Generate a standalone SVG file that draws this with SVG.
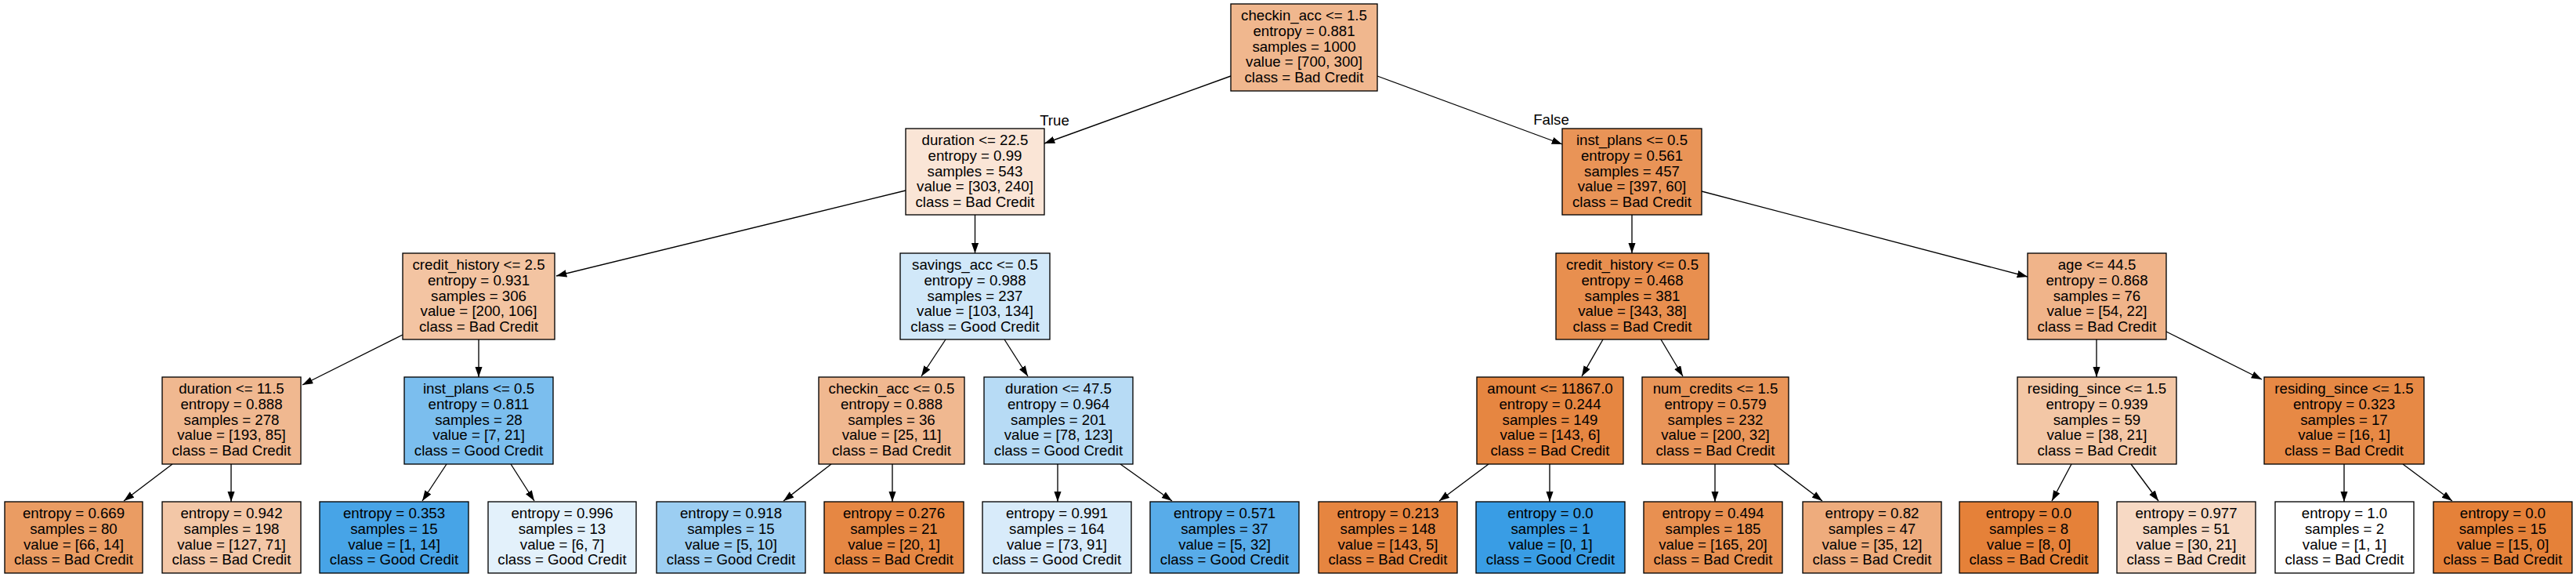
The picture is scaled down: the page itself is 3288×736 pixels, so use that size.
<svg xmlns="http://www.w3.org/2000/svg" width="3288" height="736" viewBox="0 0 3288 736">
<style>
g rect{stroke:#000;stroke-width:1.33}
text{font-family:"Liberation Sans",Arial,Helvetica,sans-serif;font-size:18.67px;text-anchor:middle;fill:#000}
#edges line{stroke:#000;stroke-width:1.33;marker-end:url(#ah)}
</style>
<defs>
<marker id="ah" markerUnits="userSpaceOnUse" markerWidth="14" markerHeight="10" refX="13.3" refY="4.67" orient="auto"><path d="M0,0 L13.3,4.67 L0,9.33 z" fill="#000"/></marker>
</defs>
<rect x="0" y="0" width="3288" height="736" fill="#fff"/>
<g id="edges">
<line x1="1571" y1="97" x2="1333" y2="183"/>
<line x1="1758" y1="97" x2="1994" y2="184"/>
<line x1="1156" y1="243" x2="710" y2="352"/>
<line x1="1244.5" y1="274" x2="1244.5" y2="323"/>
<line x1="2083" y1="274" x2="2083" y2="323"/>
<line x1="2172" y1="244" x2="2588" y2="353"/>
<line x1="514" y1="427" x2="386" y2="491"/>
<line x1="611" y1="433" x2="611" y2="481"/>
<line x1="1207" y1="433" x2="1176" y2="480"/>
<line x1="1282" y1="433" x2="1312" y2="480"/>
<line x1="2046" y1="433" x2="2019" y2="480"/>
<line x1="2120" y1="433" x2="2148" y2="480"/>
<line x1="2676" y1="433" x2="2676" y2="481"/>
<line x1="2765" y1="423" x2="2887" y2="484"/>
<line x1="220" y1="592" x2="158" y2="639"/>
<line x1="295" y1="592" x2="295" y2="640"/>
<line x1="570" y1="592" x2="539" y2="639"/>
<line x1="652" y1="592" x2="682" y2="639"/>
<line x1="1061" y1="592" x2="1000" y2="639"/>
<line x1="1139" y1="592" x2="1139" y2="640"/>
<line x1="1350" y1="592" x2="1350" y2="640"/>
<line x1="1430" y1="592" x2="1496" y2="639"/>
<line x1="1900" y1="592" x2="1837" y2="639"/>
<line x1="1978" y1="592" x2="1978" y2="640"/>
<line x1="2189" y1="592" x2="2189" y2="640"/>
<line x1="2264" y1="592" x2="2326" y2="639"/>
<line x1="2644" y1="592" x2="2619" y2="639"/>
<line x1="2720" y1="592" x2="2755" y2="639"/>
<line x1="2992" y1="592" x2="2992" y2="640"/>
<line x1="3067" y1="592" x2="3130" y2="639"/>
<text x="1346" y="160">True</text>
<text x="1980" y="159">False</text>
</g>
<g id="n0"><rect x="1571" y="5" width="187" height="111" fill="#f0b78e"/><text><tspan x="1664.5" y="26">checkin_acc &lt;= 1.5</tspan><tspan x="1664.5" y="45.75">entropy = 0.881</tspan><tspan x="1664.5" y="65.5">samples = 1000</tspan><tspan x="1664.5" y="85.25">value = [700, 300]</tspan><tspan x="1664.5" y="105">class = Bad Credit</tspan></text></g>
<g id="n1"><rect x="1156" y="164" width="177" height="110" fill="#fae5d6"/><text><tspan x="1244.5" y="185">duration &lt;= 22.5</tspan><tspan x="1244.5" y="204.75">entropy = 0.99</tspan><tspan x="1244.5" y="224.5">samples = 543</tspan><tspan x="1244.5" y="244.25">value = [303, 240]</tspan><tspan x="1244.5" y="264">class = Bad Credit</tspan></text></g>
<g id="n2"><rect x="514" y="323" width="194" height="110" fill="#f3c4a2"/><text><tspan x="611" y="344">credit_history &lt;= 2.5</tspan><tspan x="611" y="363.75">entropy = 0.931</tspan><tspan x="611" y="383.5">samples = 306</tspan><tspan x="611" y="403.25">value = [200, 106]</tspan><tspan x="611" y="423">class = Bad Credit</tspan></text></g>
<g id="n3"><rect x="207" y="481" width="177" height="111" fill="#f0b890"/><text><tspan x="295.5" y="502">duration &lt;= 11.5</tspan><tspan x="295.5" y="521.75">entropy = 0.888</tspan><tspan x="295.5" y="541.5">samples = 278</tspan><tspan x="295.5" y="561.25">value = [193, 85]</tspan><tspan x="295.5" y="581">class = Bad Credit</tspan></text></g>
<g id="n4"><rect x="6" y="640" width="176" height="91" fill="#ea9c63"/><text><tspan x="94" y="661">entropy = 0.669</tspan><tspan x="94" y="680.75">samples = 80</tspan><tspan x="94" y="700.5">value = [66, 14]</tspan><tspan x="94" y="720.25">class = Bad Credit</tspan></text></g>
<g id="n5"><rect x="207" y="640" width="177" height="91" fill="#f3c7a7"/><text><tspan x="295.5" y="661">entropy = 0.942</tspan><tspan x="295.5" y="680.75">samples = 198</tspan><tspan x="295.5" y="700.5">value = [127, 71]</tspan><tspan x="295.5" y="720.25">class = Bad Credit</tspan></text></g>
<g id="n6"><rect x="516" y="481" width="190" height="111" fill="#7bbeee"/><text><tspan x="611" y="502">inst_plans &lt;= 0.5</tspan><tspan x="611" y="521.75">entropy = 0.811</tspan><tspan x="611" y="541.5">samples = 28</tspan><tspan x="611" y="561.25">value = [7, 21]</tspan><tspan x="611" y="581">class = Good Credit</tspan></text></g>
<g id="n7"><rect x="408" y="640" width="190" height="91" fill="#47a4e7"/><text><tspan x="503" y="661">entropy = 0.353</tspan><tspan x="503" y="680.75">samples = 15</tspan><tspan x="503" y="700.5">value = [1, 14]</tspan><tspan x="503" y="720.25">class = Good Credit</tspan></text></g>
<g id="n8"><rect x="623" y="640" width="189" height="91" fill="#e3f1fb"/><text><tspan x="717.5" y="661">entropy = 0.996</tspan><tspan x="717.5" y="680.75">samples = 13</tspan><tspan x="717.5" y="700.5">value = [6, 7]</tspan><tspan x="717.5" y="720.25">class = Good Credit</tspan></text></g>
<g id="n9"><rect x="1149" y="323" width="191" height="110" fill="#d1e8f9"/><text><tspan x="1244.5" y="344">savings_acc &lt;= 0.5</tspan><tspan x="1244.5" y="363.75">entropy = 0.988</tspan><tspan x="1244.5" y="383.5">samples = 237</tspan><tspan x="1244.5" y="403.25">value = [103, 134]</tspan><tspan x="1244.5" y="423">class = Good Credit</tspan></text></g>
<g id="n10"><rect x="1045" y="481" width="186" height="111" fill="#f0b890"/><text><tspan x="1138" y="502">checkin_acc &lt;= 0.5</tspan><tspan x="1138" y="521.75">entropy = 0.888</tspan><tspan x="1138" y="541.5">samples = 36</tspan><tspan x="1138" y="561.25">value = [25, 11]</tspan><tspan x="1138" y="581">class = Bad Credit</tspan></text></g>
<g id="n11"><rect x="838" y="640" width="190" height="91" fill="#9ccef2"/><text><tspan x="933" y="661">entropy = 0.918</tspan><tspan x="933" y="680.75">samples = 15</tspan><tspan x="933" y="700.5">value = [5, 10]</tspan><tspan x="933" y="720.25">class = Good Credit</tspan></text></g>
<g id="n12"><rect x="1052" y="640" width="178" height="91" fill="#e68743"/><text><tspan x="1141" y="661">entropy = 0.276</tspan><tspan x="1141" y="680.75">samples = 21</tspan><tspan x="1141" y="700.5">value = [20, 1]</tspan><tspan x="1141" y="720.25">class = Bad Credit</tspan></text></g>
<g id="n13"><rect x="1256" y="481" width="190" height="111" fill="#b7dbf5"/><text><tspan x="1351" y="502">duration &lt;= 47.5</tspan><tspan x="1351" y="521.75">entropy = 0.964</tspan><tspan x="1351" y="541.5">samples = 201</tspan><tspan x="1351" y="561.25">value = [78, 123]</tspan><tspan x="1351" y="581">class = Good Credit</tspan></text></g>
<g id="n14"><rect x="1254" y="640" width="190" height="91" fill="#d8ebfa"/><text><tspan x="1349" y="661">entropy = 0.991</tspan><tspan x="1349" y="680.75">samples = 164</tspan><tspan x="1349" y="700.5">value = [73, 91]</tspan><tspan x="1349" y="720.25">class = Good Credit</tspan></text></g>
<g id="n15"><rect x="1468" y="640" width="190" height="91" fill="#58ace9"/><text><tspan x="1563" y="661">entropy = 0.571</tspan><tspan x="1563" y="680.75">samples = 37</tspan><tspan x="1563" y="700.5">value = [5, 32]</tspan><tspan x="1563" y="720.25">class = Good Credit</tspan></text></g>
<g id="n16"><rect x="1994" y="164" width="178" height="110" fill="#e99457"/><text><tspan x="2083" y="185">inst_plans &lt;= 0.5</tspan><tspan x="2083" y="204.75">entropy = 0.561</tspan><tspan x="2083" y="224.5">samples = 457</tspan><tspan x="2083" y="244.25">value = [397, 60]</tspan><tspan x="2083" y="264">class = Bad Credit</tspan></text></g>
<g id="n17"><rect x="1986" y="323" width="195" height="110" fill="#e88f4f"/><text><tspan x="2083.5" y="344">credit_history &lt;= 0.5</tspan><tspan x="2083.5" y="363.75">entropy = 0.468</tspan><tspan x="2083.5" y="383.5">samples = 381</tspan><tspan x="2083.5" y="403.25">value = [343, 38]</tspan><tspan x="2083.5" y="423">class = Bad Credit</tspan></text></g>
<g id="n18"><rect x="1885" y="481" width="187" height="111" fill="#e68641"/><text><tspan x="1978.5" y="502">amount &lt;= 11867.0</tspan><tspan x="1978.5" y="521.75">entropy = 0.244</tspan><tspan x="1978.5" y="541.5">samples = 149</tspan><tspan x="1978.5" y="561.25">value = [143, 6]</tspan><tspan x="1978.5" y="581">class = Bad Credit</tspan></text></g>
<g id="n19"><rect x="1683" y="640" width="177" height="91" fill="#e68540"/><text><tspan x="1771.5" y="661">entropy = 0.213</tspan><tspan x="1771.5" y="680.75">samples = 148</tspan><tspan x="1771.5" y="700.5">value = [143, 5]</tspan><tspan x="1771.5" y="720.25">class = Bad Credit</tspan></text></g>
<g id="n20"><rect x="1884" y="640" width="190" height="91" fill="#399de5"/><text><tspan x="1979" y="661">entropy = 0.0</tspan><tspan x="1979" y="680.75">samples = 1</tspan><tspan x="1979" y="700.5">value = [0, 1]</tspan><tspan x="1979" y="720.25">class = Good Credit</tspan></text></g>
<g id="n21"><rect x="2096" y="481" width="187" height="111" fill="#e99559"/><text><tspan x="2189.5" y="502">num_credits &lt;= 1.5</tspan><tspan x="2189.5" y="521.75">entropy = 0.579</tspan><tspan x="2189.5" y="541.5">samples = 232</tspan><tspan x="2189.5" y="561.25">value = [200, 32]</tspan><tspan x="2189.5" y="581">class = Bad Credit</tspan></text></g>
<g id="n22"><rect x="2098" y="640" width="177" height="91" fill="#e89051"/><text><tspan x="2186.5" y="661">entropy = 0.494</tspan><tspan x="2186.5" y="680.75">samples = 185</tspan><tspan x="2186.5" y="700.5">value = [165, 20]</tspan><tspan x="2186.5" y="720.25">class = Bad Credit</tspan></text></g>
<g id="n23"><rect x="2301" y="640" width="177" height="91" fill="#eeac7d"/><text><tspan x="2389.5" y="661">entropy = 0.82</tspan><tspan x="2389.5" y="680.75">samples = 47</tspan><tspan x="2389.5" y="700.5">value = [35, 12]</tspan><tspan x="2389.5" y="720.25">class = Bad Credit</tspan></text></g>
<g id="n24"><rect x="2588" y="323" width="177" height="110" fill="#f0b48a"/><text><tspan x="2676.5" y="344">age &lt;= 44.5</tspan><tspan x="2676.5" y="363.75">entropy = 0.868</tspan><tspan x="2676.5" y="383.5">samples = 76</tspan><tspan x="2676.5" y="403.25">value = [54, 22]</tspan><tspan x="2676.5" y="423">class = Bad Credit</tspan></text></g>
<g id="n25"><rect x="2575" y="481" width="203" height="111" fill="#f3c7a6"/><text><tspan x="2676.5" y="502">residing_since &lt;= 1.5</tspan><tspan x="2676.5" y="521.75">entropy = 0.939</tspan><tspan x="2676.5" y="541.5">samples = 59</tspan><tspan x="2676.5" y="561.25">value = [38, 21]</tspan><tspan x="2676.5" y="581">class = Bad Credit</tspan></text></g>
<g id="n26"><rect x="2501" y="640" width="177" height="91" fill="#e58139"/><text><tspan x="2589.5" y="661">entropy = 0.0</tspan><tspan x="2589.5" y="680.75">samples = 8</tspan><tspan x="2589.5" y="700.5">value = [8, 0]</tspan><tspan x="2589.5" y="720.25">class = Bad Credit</tspan></text></g>
<g id="n27"><rect x="2702" y="640" width="177" height="91" fill="#f7d9c4"/><text><tspan x="2790.5" y="661">entropy = 0.977</tspan><tspan x="2790.5" y="680.75">samples = 51</tspan><tspan x="2790.5" y="700.5">value = [30, 21]</tspan><tspan x="2790.5" y="720.25">class = Bad Credit</tspan></text></g>
<g id="n28"><rect x="2890" y="481" width="204" height="111" fill="#e78945"/><text><tspan x="2992" y="502">residing_since &lt;= 1.5</tspan><tspan x="2992" y="521.75">entropy = 0.323</tspan><tspan x="2992" y="541.5">samples = 17</tspan><tspan x="2992" y="561.25">value = [16, 1]</tspan><tspan x="2992" y="581">class = Bad Credit</tspan></text></g>
<g id="n29"><rect x="2904" y="640" width="177" height="91" fill="#ffffff"/><text><tspan x="2992.5" y="661">entropy = 1.0</tspan><tspan x="2992.5" y="680.75">samples = 2</tspan><tspan x="2992.5" y="700.5">value = [1, 1]</tspan><tspan x="2992.5" y="720.25">class = Bad Credit</tspan></text></g>
<g id="n30"><rect x="3106" y="640" width="177" height="91" fill="#e58139"/><text><tspan x="3194.5" y="661">entropy = 0.0</tspan><tspan x="3194.5" y="680.75">samples = 15</tspan><tspan x="3194.5" y="700.5">value = [15, 0]</tspan><tspan x="3194.5" y="720.25">class = Bad Credit</tspan></text></g>
</svg>
